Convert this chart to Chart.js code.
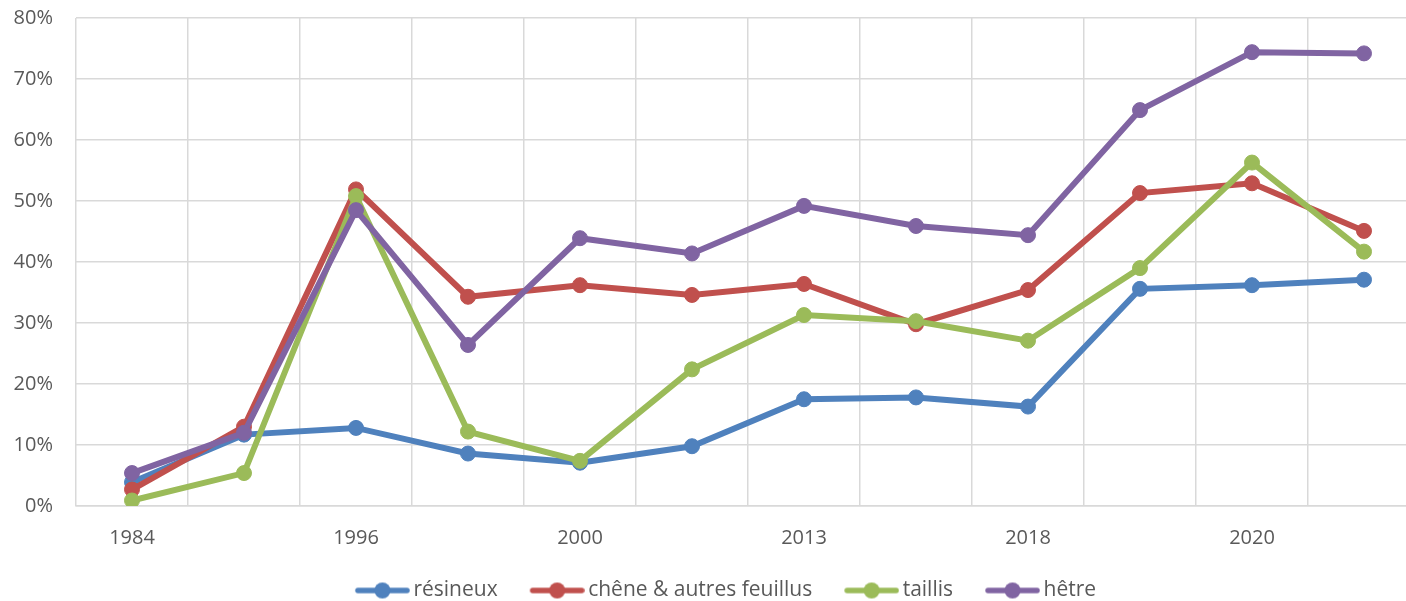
<!DOCTYPE html>
<html>
<head>
<meta charset="utf-8">
<script src="https://cdn.jsdelivr.net/npm/chart.js@4.4.1/dist/chart.umd.min.js"></script>
<style>
  html, body { margin: 0; padding: 0; background: #ffffff; overflow: hidden; }
</style>
</head>
<body>
<canvas id="chart" width="1447" height="611"></canvas>
<script>
// categories (only every other year label is printed on the axis)
const categories = ['1984', '', '1996', '', '2000', '', '2013', '', '2018', '', '2020', ''];
const yTicks = [0, 10, 20, 30, 40, 50, 60, 70, 80];

// values in %
const resineux = [3.9, 11.7, 12.8, 8.6, 7.1, 9.8, 17.5, 17.8, 16.3, 35.6, 36.2, 37.1];
const chene = [2.7, 13.0, 51.9, 34.3, 36.2, 34.6, 36.4, 29.8, 35.4, 51.3, 52.9, 45.1];
const taillis = [0.9, 5.4, 50.8, 12.2, 7.4, 22.4, 31.3, 30.3, 27.1, 39.0, 56.3, 41.7];
const hetre = [5.4, 12.0, 48.5, 26.4, 43.9, 41.4, 49.2, 45.9, 44.4, 64.9, 74.4, 74.2];

const seriesNames = ['résineux', 'chêne & autres feuillus', 'taillis', 'hêtre'];
const seriesColors = ['#4f81bd', '#c0504d', '#9bbb59', '#8064a2'];

const textColor = '#595959';
const gridColor = '#d9d9d9';
const fontFamily = "'Open Sans', sans-serif";

Chart.defaults.font.family = fontFamily;
Chart.defaults.color = textColor;

// legend symbol: short line with a marker in the middle
// (drawn a bit right of the canvas centre so it sits next to the text)
function legendIcon(color) {
    const c = document.createElement('canvas');
    c.width = 66;
    c.height = 18;
    const ctx = c.getContext('2d');
    ctx.strokeStyle = color;
    ctx.lineWidth = 5.5;
    ctx.lineCap = 'round';
    ctx.beginPath();
    ctx.moveTo(14, 9);
    ctx.lineTo(63, 9);
    ctx.stroke();
    ctx.fillStyle = color;
    ctx.beginPath();
    ctx.arc(38.5, 9, 8, 0, Math.PI * 2);
    ctx.fill();
    return c;
}
const icons = seriesColors.map(legendIcon);

const values = [resineux, chene, taillis, hetre];
const datasets = values.map((data, i) => ({
    label: seriesNames[i],
    data,
    borderColor: seriesColors[i],
    backgroundColor: seriesColors[i],
    pointBackgroundColor: seriesColors[i],
    pointBorderColor: seriesColors[i],
    pointBorderWidth: 1,
    pointRadius: 7.5,
    borderWidth: 6,
    tension: 0,
    fill: false,
    order: values.length - i,
}));

new Chart(document.getElementById('chart'), {
    type: 'line',
    data: { labels: categories, datasets },
    options: {
        responsive: false,
        animation: false,
        layout: { padding: { top: 18, left: 0, right: 0, bottom: 0 } },
        plugins: {
            tooltip: { enabled: false },
            legend: {
                position: 'bottom',
                labels: {
                    usePointStyle: true,
                    pointStyleWidth: 52,
                    padding: 28,
                    color: textColor,
                    font: { family: fontFamily, size: 21 },
                    sort: (a, b) => a.datasetIndex - b.datasetIndex,
                    generateLabels(chart) {
                        const items = Chart.defaults.plugins.legend.labels.generateLabels(chart);
                        items.forEach((it) => { it.pointStyle = icons[it.datasetIndex]; });
                        return items;
                    },
                },
            },
        },
        scales: {
            x: {
                offset: true,
                grid: { offset: true, color: gridColor, lineWidth: 1.5, drawTicks: false },
                border: { color: gridColor, width: 1.5 },
                ticks: {
                    autoSkip: false,
                    maxRotation: 0,
                    padding: 20,
                    color: textColor,
                    font: { family: fontFamily, size: 20 },
                },
                afterFit: (s) => { s.height = 46; },
            },
            y: {
                min: 0,
                max: 80,
                afterBuildTicks: (s) => { s.ticks = yTicks.map((v) => ({ value: v })); },
                grid: { color: gridColor, lineWidth: 1.5, drawTicks: true, tickLength: 23, tickColor: 'rgba(0,0,0,0)' },
                border: { display: false },
                ticks: {
                    padding: 0,
                    color: textColor,
                    font: { family: fontFamily, size: 20 },
                    callback: (v) => v + '%',
                },
                afterFit: (s) => { s.width = 76; },
            },
            spacer: {
                type: 'linear',
                position: 'right',
                display: true,
                grid: { display: false },
                border: { display: false },
                ticks: { display: false },
                afterFit: (s) => { s.width = 27; },
            },
        },
    },
});
</script>
</body>
</html>
